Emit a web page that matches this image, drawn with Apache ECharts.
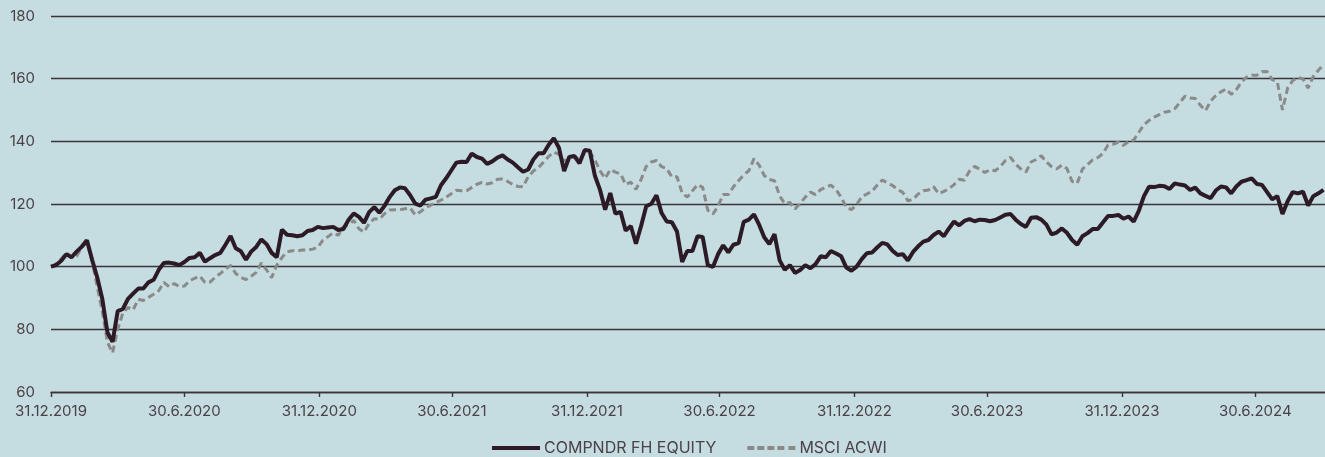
<!DOCTYPE html>
<html>
<head>
<meta charset="utf-8">
<script src="https://cdn.jsdelivr.net/npm/echarts@6/dist/echarts.min.js"></script>
<style>
  html, body { margin: 0; padding: 0; background: #c5dde0; }
  #chart { width: 1325px; height: 457px; }
</style>
</head>
<body>
<div id="chart"></div>
<script>
// ---- data ----
const seriesNames = ['COMPNDR FH EQUITY', 'MSCI ACWI'];
const startDate = '2019-12-31';   // first weekly observation
const stepDays = 7;               // weekly observations
const tickDates = ['2019-12-31','2020-06-30','2020-12-31','2021-06-30','2021-12-31',
                   '2022-06-30','2022-12-31','2023-06-30','2023-12-31','2024-06-30'];
const axisMin = '2019-12-31';
const axisMax = '2024-10-03';
const yTicks = [60, 80, 100, 120, 140, 160, 180];

const compndr = [
  100, 100.5, 101.9, 104, 103, 104.8, 106.4, 108.4, 102.3, 96.6,
  89.7, 79, 76, 85.8, 86.5, 89.7, 91.4, 93, 93, 95,
  95.8, 99, 101.2, 101.3, 101, 100.5, 101.5, 102.8, 103, 104.4,
  101.6, 102.7, 103.7, 104.4, 107, 109.8, 105.9, 104.9, 102.2, 104.8,
  106.3, 108.7, 107.2, 104.4, 103, 111.8, 110.2, 110, 109.7, 110,
  111.4, 111.7, 112.7, 112.3, 112.5, 112.7, 111.7, 112, 115, 117,
  115.9, 114, 117.4, 119, 117.2, 119.4, 122.2, 124.4, 125.3, 125,
  122.8, 120.1, 119.5, 121.4, 121.8, 122.3, 126, 128.2, 130.7, 133.2,
  133.5, 133.4, 136.1, 135, 134.5, 132.8, 133.6, 134.8, 135.5, 134.2,
  133.2, 131.7, 130.3, 131, 134.2, 136.2, 136.2, 138.9, 141, 137.9,
  130.5, 135, 135.3, 133, 137.2, 137, 129, 124.5, 118.2, 123.5,
  116.9, 117.5, 111.5, 113, 107.3, 113, 119.3, 120.1, 122.8, 117.1,
  114.4, 114.2, 111.2, 101.5, 105, 105, 109.7, 109.5, 100.5, 99.9,
  104, 106.8, 104.6, 107, 107.5, 114.3, 115, 116.7, 113.4, 109.4,
  107.2, 110.4, 102, 99, 100.5, 98, 98.9, 100.5, 99.5, 100.8,
  103.3, 103, 105, 104.2, 103.3, 99.7, 98.7, 100, 102.4, 104.3,
  104.5, 106.1, 107.6, 107.1, 105.1, 103.7, 104, 102, 104.7, 106.5,
  108, 108.5, 110.1, 111.2, 109.7, 112.2, 114.4, 113.2, 114.6, 115.2,
  114.5, 115, 114.9, 114.5, 114.9, 115.7, 116.6, 116.8, 115, 113.6,
  112.7, 115.6, 115.8, 115, 113.4, 110.3, 110.9, 112.2, 110.8, 108.5,
  107, 109.7, 110.7, 112, 112, 114.1, 116.2, 116.2, 116.5, 115.3,
  116, 114.4, 117.8, 122.5, 125.5, 125.4, 125.8, 125.7, 124.8, 126.6,
  126.2, 125.9, 124.5, 125.2, 123.4, 122.6, 121.9, 124.3, 125.6, 125.3,
  123.4, 125.6, 127.1, 127.6, 128.2, 126.4, 126.1, 123.8, 121.5, 122.5,
  116.8, 120.9, 123.8, 123.4, 123.9, 119.5, 122.5, 123.4, 124.5
];

const msciAcwi = [
  100, 100.9, 102.5, 104.4, 102.9, 103.3, 106.2, 107.8, 101.8, 93.7,
  85.7, 75.9, 72.5, 80, 85.2, 87, 86.2, 89.6, 89.2, 90.2,
  91.2, 92.3, 95, 93.6, 94.6, 93.7, 93.8, 95.5, 96.3, 97,
  95, 95.1, 96.6, 97.8, 99.2, 100.4, 97.8, 96.6, 95.9, 96.9,
  98.2, 101.2, 99, 96.5, 100.5, 102.9, 104.7, 105.1, 105, 105.3,
  105.3, 105.6, 106.2, 108.5, 109.6, 110.8, 110, 112.8, 113.4, 114.8,
  112.1, 111, 113.8, 115.3, 115.2, 116.9, 118.1, 118.2, 118.2, 118.5,
  118.7, 116.5, 117.5, 118.9, 119.6, 120.5, 121.2, 122.2, 123.3, 124.4,
  124.2, 124.2, 125.3, 126.3, 126.9, 126.4, 126.8, 127.9, 128, 127.2,
  126.2, 125.6, 125.5, 128.7, 130.5, 131.6, 133.4, 135.2, 136.6, 135.8,
  133.8, 134.3, 135.3, 134.1, 136.4, 136.6, 134.1, 130.6, 128.2, 131,
  130.2, 129.6, 126.2, 127, 124.7, 127.8, 132, 133.4, 133.9, 131.9,
  131.3, 128.6, 128.7, 123.5, 122.2, 124.2, 126.2, 125.3, 118, 116.8,
  119.3, 123, 123, 125.5, 127.4, 129.3, 130.6, 134.5, 132.4, 129.1,
  127.8, 127.4, 122.6, 120.1, 120.5, 118.4, 120.2, 122.2, 123.8, 123,
  124.6, 125.4, 126, 124.6, 122.1, 118.9, 118.2, 119.8, 122.3, 123.2,
  124, 126, 127.6, 126.8, 125.9, 124.6, 123.7, 121, 121.5, 123.2,
  124.2, 124.5, 125.5, 123.3, 124, 124.9, 126.2, 127.9, 127.6, 130.5,
  132, 131.1, 130.1, 130.9, 130.6, 131.9, 133.9, 134.9, 132.7, 131.2,
  130.2, 133.4, 134.2, 135.4, 133.4, 131.9, 131.2, 132.4, 131.3, 127.2,
  126.6, 131.1, 132.6, 134.1, 134.8, 136.1, 138.8, 139.1, 139.7, 138.7,
  139.9, 140.4, 142.9, 145.3, 146.7, 147.7, 148.5, 149.3, 149.6, 150.4,
  152.4, 154.4, 153.8, 153.7, 151.5, 149.8, 152.8, 154.6, 155.8, 156.7,
  155, 156.5, 158.9, 160.5, 161.1, 161.1, 162.2, 162.3, 159.7, 159,
  150, 157, 159.4, 160.4, 159.9, 157, 160.7, 162.7, 164.5
];

// ---- build weekly date axis values (timestamps) ----
function toTs(s) { const p = s.split('-').map(Number); return Date.UTC(p[0], p[1] - 1, p[2]); }
function buildDates(start, n, step) {
  const t0 = toTs(start);
  const out = [];
  for (let i = 0; i < n; i++) out.push(t0 + i * step * 86400000);
  return out;
}
const dates = buildDates(startDate, compndr.length, stepDays);
const tickTs = tickDates.map(toTs);

const textColor = '#4a4248';
const gridColor = '#3b3439';
const compColor = '#2c1b26';
const msciColor = '#8a8a8a';
const fontFamily = 'Inter, "Liberation Sans", sans-serif';

const chart = echarts.init(document.getElementById('chart'), null, { renderer: 'canvas' });
chart.setOption({
  animation: false,
  backgroundColor: '#c5dde0',
  grid: { left: 51, right: 0, top: 16, bottom: 65, containLabel: false },
  legend: {
    top: 435,
    left: 487,
    itemWidth: 48,
    itemHeight: 4,
    itemGap: 31,
    textStyle: { color: textColor, fontSize: 16, fontFamily: fontFamily, padding: [0, 0, 0, -1] },
    data: [
      { name: seriesNames[0], icon: 'path://M0,0h48v4h-48z' },
      { name: seriesNames[1], icon: 'path://M0,0h7v4h-7z M10,0h7v4h-7z M20,0h7v4h-7z M30,0h7v4h-7z M41,0h7v4h-7z' }
    ]
  },
  xAxis: {
    type: 'value',
    min: toTs(axisMin),
    max: toTs(axisMax),
    splitLine: { show: false },
    axisLine: { show: true, lineStyle: { color: gridColor, width: 1.4 } },
    axisTick: { show: true, customValues: tickTs, length: 5, lineStyle: { color: gridColor, width: 1.4 } },
    axisLabel: {
      customValues: tickTs,
      color: textColor,
      fontSize: 15,
      fontFamily: fontFamily,
      margin: 12,
      formatter: function (v) {
        const d = new Date(v);
        return d.getUTCDate() + '.' + (d.getUTCMonth() + 1) + '.' + d.getUTCFullYear();
      }
    }
  },
  yAxis: {
    type: 'value',
    min: yTicks[0],
    max: yTicks[yTicks.length - 1],
    interval: 20,
    axisLine: { show: false },
    axisTick: { show: false },
    splitLine: { show: true, lineStyle: { color: gridColor, width: 1.4 } },
    axisLabel: { color: textColor, fontSize: 15, fontFamily: fontFamily, margin: 16 }
  },
  series: [
    {
      name: seriesNames[0],
      type: 'line',
      showSymbol: false,
      symbol: 'none',
      z: 3,
      lineStyle: { color: compColor, width: 4 },
      itemStyle: { color: compColor },
      data: dates.map((d, i) => [d, compndr[i]])
    },
    {
      name: seriesNames[1],
      type: 'line',
      showSymbol: false,
      symbol: 'none',
      z: 2,
      lineStyle: { color: msciColor, width: 3, type: [7, 4] },
      itemStyle: { color: msciColor },
      data: dates.map((d, i) => [d, msciAcwi[i]])
    }
  ]
});
</script>
</body>
</html>
